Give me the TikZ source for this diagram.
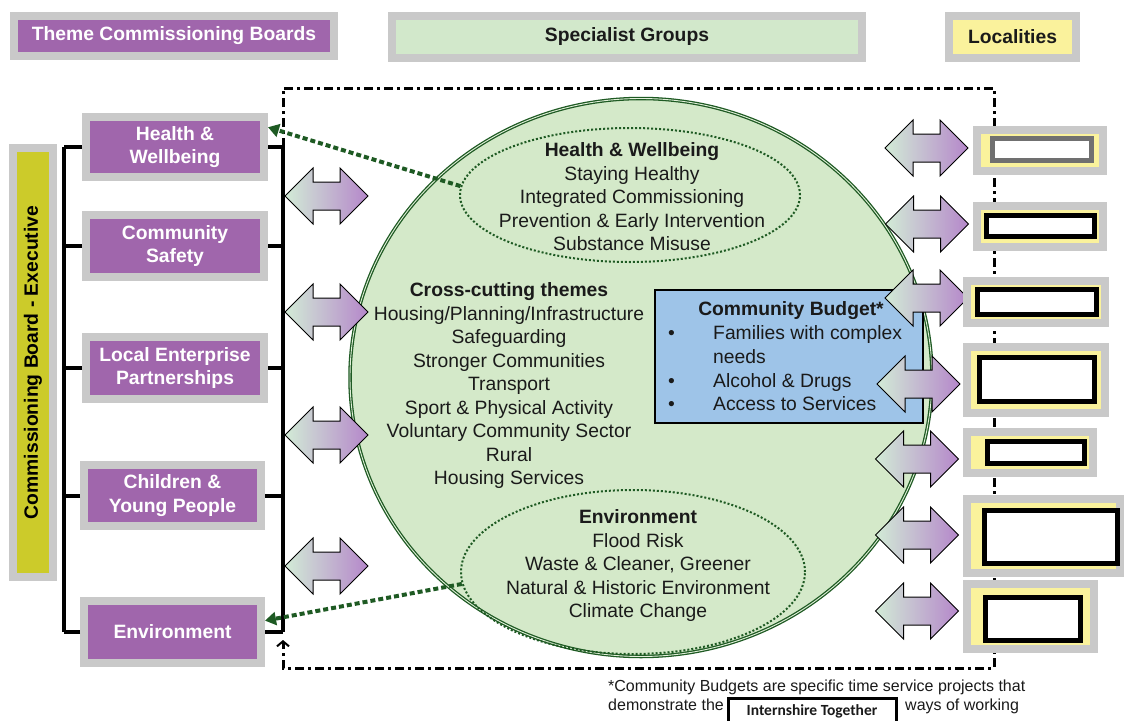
\documentclass[tikz,border=0pt]{standalone}
\usepackage{fontspec}
\setmainfont{Liberation Sans}
\newfontfamily\calib{Carlito}
\usetikzlibrary{shapes.geometric,shapes.arrows,arrows.meta,calc}
\definecolor{purp}{HTML}{A066AC}
\definecolor{frameg}{HTML}{C9C9C9}
\definecolor{hgreen}{HTML}{D2E8CB}
\definecolor{lyellow}{HTML}{FAF29C}
\definecolor{olivey}{HTML}{CCCB2A}
\definecolor{cfill}{HTML}{D4E9C9}
\definecolor{dgreen}{HTML}{1E5A23}
\definecolor{bboxc}{HTML}{9EC4E8}
\definecolor{agreen}{HTML}{D2EBD6}
\definecolor{amid}{HTML}{ECEAF4}
\definecolor{apurp}{HTML}{B587CA}
\definecolor{txtc}{HTML}{1A1A1A}
\definecolor{locgray}{HTML}{707070}
\begin{document}
\begin{tikzpicture}[x=1pt,y=-1pt,
  big/.style={font=\fontsize{19.3}{23.5}\selectfont},
  bigb/.style={font=\fontsize{19.3}{23.5}\selectfont\bfseries},
  hdr/.style={rectangle, draw=frameg, line width=8pt, inner sep=0pt, bigb, align=center},
  board/.style={hdr, fill=purp, text=white, minimum width=178pt, minimum height=60pt},
  brk/.style={line width=4pt, black},
  dashframe/.style={line width=3pt, black, dash pattern=on 9pt off 4pt on 3pt off 4pt},
  dblarr/.style={double arrow, draw=black, line width=1pt, minimum height=83pt, inner xsep=0pt, inner ysep=13.5pt, double arrow head extend=14pt, left color=agreen, middle color=amid, right color=apurp},
  dotarr/.style={draw=dgreen, line width=4pt, dash pattern=on 5pt off 3pt, -{Triangle[length=11pt,width=13pt]}},
  locout/.style={rectangle, draw=frameg, line width=8pt, fill=lyellow, inner sep=0pt},
  locin/.style={rectangle, draw=black, line width=5pt, fill=white, inner sep=0pt},
  ctext/.style={big, align=center, inner sep=0pt, text=txtc},
  cbt/.style={big, inner sep=0pt, text=txtc, text height=14pt, text depth=4pt},
  foot/.style={font=\fontsize{16}{18}\selectfont, inner sep=0pt, text=txtc, text height=12pt, text depth=3pt}
]
\path[use as bounding box, fill=white] (0,0) rectangle (1124,720);

% headers
\node[hdr, fill=purp, text=white, minimum width=320pt, minimum height=40pt] (h1) at (174,36) {Theme Commissioning Boards};
\node[hdr, fill=hgreen, text=txtc, minimum width=470pt, minimum height=42pt] (h2) at (627,37) {Specialist Groups};
\node[hdr, fill=lyellow, text=txtc, minimum width=127pt, minimum height=42pt] (h3) at (1012.5,37) {Localities};

% left boards
\node[board] (hw) at (175,147) {Health \&\\Wellbeing};
\node[board, minimum height=62pt] (cs) at (175,246) {Community\\Safety};
\node[board, minimum height=62pt] (lep) at (175,368) {Local Enterprise\\Partnerships};
\node[board, minimum width=177pt, minimum height=61pt] (cyp) at (172.5,495.5) {Children \&\\Young People};
\node[board, minimum width=177pt, minimum height=62pt] (env) at (172.5,632) {Environment};

% executive board
\node[hdr, fill=olivey, text=black, minimum width=40pt, minimum height=429pt] (exec) at (33,362.5) {};
\node[bigb, rotate=90, inner sep=0pt] (exect) at (exec.center) {Commissioning Board - Executive};

% bracket coordinates
\coordinate (lb) at (64,0);
\coordinate (rb) at (283,0);
\coordinate (ftl) at (283,88);
\coordinate (ftr) at (994,88);
\coordinate (fbr) at (994,668);
\coordinate (fbl) at (283,668);
\coordinate (fend) at (283,640);

% dash-dot frame
\draw[dashframe, -{Straight Barb[length=5pt,width=12pt,line width=2pt]}] (hw.east -| rb) -- (ftl) -- (ftr) -- (fbr) -- (fbl) -- (fend);

% brackets
\draw[brk] (hw.west -| lb) -- (env.west -| lb);
\draw[brk] (hw.east -| rb) -- (env.east -| rb);
\foreach \n in {hw,cs,lep,cyp,env}{
  \draw[brk] (\n.west) -- (\n.west -| lb);
  \draw[brk] (\n.east) -- (\n.east -| rb);
}

% big circle
\node[ellipse, draw=dgreen, line width=1.3pt, double=cfill!70!white, double distance=0.9pt, fill=cfill, minimum width=582pt, minimum height=558pt, inner sep=0pt] (circ) at (641,377.5) {};

% inner ellipses
\node[ellipse, draw=dgreen, line width=2pt, dash pattern=on 2pt off 2pt, minimum width=340pt, minimum height=134pt, inner sep=0pt] (hwe) at (630,195) {};
\node[ellipse, draw=dgreen, line width=2pt, dash pattern=on 2pt off 2pt, minimum width=344pt, minimum height=164pt, inner sep=0pt] (enve) at (633,572) {};

% circle texts
\node[ctext] (hwt) at (632,197) {\textbf{Health \& Wellbeing}\\Staying Healthy\\Integrated Commissioning\\Prevention \& Early Intervention\\Substance Misuse};
\node[ctext] (cct) at (509,386) {\textbf{Cross-cutting themes}\\Housing/Planning/Infrastructure\\Safeguarding\\Stronger Communities\\Transport\\Sport \& Physical Activity\\Voluntary Community Sector\\Rural\\Housing Services};
\node[ctext] (envt) at (638,566) {\textbf{Environment}\\Flood Risk\\Waste \& Cleaner, Greener\\Natural \& Historic Environment\\Climate Change};

% community budget
\node[rectangle, draw=black, line width=1.2pt, fill=bboxc, minimum width=268pt, minimum height=133pt, inner sep=0pt] (cb) at (789,356.5) {};
\node[cbt, bigb] (cbtitle) at (791,310) {Community Budget*};
\node[cbt, anchor=west] (cbb1) at (668,334) {\textbullet};
\node[cbt, anchor=west] (cbl1) at (713,334) {Families with complex};
\node[cbt, anchor=west] (cbl2) at (713,358) {needs};
\node[cbt, anchor=west] (cbb2) at (668,382) {\textbullet};
\node[cbt, anchor=west] (cbl3) at (713,382) {Alcohol \& Drugs};
\node[cbt, anchor=west] (cbb3) at (668,405) {\textbullet};
\node[cbt, anchor=west] (cbl4) at (713,405) {Access to Services};

% left arrows
\node[dblarr] (la1) at (326.5,196) {};
\node[dblarr] (la2) at (326.5,312) {};
\node[dblarr] (la3) at (326.5,435) {};
\node[dblarr] (la4) at (326.5,566) {};

% right arrows
\node[dblarr] (ra1) at (926.5,148) {};
\node[dblarr] (ra2) at (927,224) {};
\node[dblarr] (ra3) at (926.5,298) {};
\node[dblarr] (ra4) at (918.5,384) {};
\node[dblarr] (ra5) at (917,459) {};
\node[dblarr] (ra6) at (917,535) {};
\node[dblarr] (ra7) at (917,611) {};

% dotted green arrows
\draw[dotarr] (hwe.177) -- (hw.12);
\draw[dotarr] (enve.184) -- (env.7);

% localities
\node[locout, minimum width=126pt, minimum height=41pt] (lo1) at (1040,150.5) {};
\node[locin, draw=locgray, minimum width=99pt, minimum height=22pt] (li1) at (1042,149.5) {};
\node[locout, minimum width=126pt, minimum height=41pt] (lo2) at (1040,226.5) {};
\node[locin, minimum width=108pt, minimum height=21pt] (li2) at (1040.5,226) {};
\node[locout, minimum width=138pt, minimum height=42pt] (lo3) at (1036,302) {};
\node[locin, minimum width=119pt, minimum height=25pt] (li3) at (1037,302) {};
\node[locout, minimum width=138pt, minimum height=66pt] (lo4) at (1036,380) {};
\node[locin, minimum width=115pt, minimum height=44pt] (li4) at (1037,379.5) {};
\node[locout, minimum width=126pt, minimum height=41pt] (lo5) at (1030,452.5) {};
\node[locin, minimum width=97pt, minimum height=22pt] (li5) at (1036,452.5) {};
\node[locout, minimum width=153pt, minimum height=74pt] (lo6) at (1043.5,536) {};
\node[locin, minimum width=133pt, minimum height=53pt] (li6) at (1051,537) {};
\node[locout, minimum width=127pt, minimum height=65pt] (lo7) at (1030.5,616.5) {};
\node[locin, minimum width=95pt, minimum height=43pt] (li7) at (1033,619) {};

% footnote
\node[foot, anchor=west] (f1) at (608,687) {*Community Budgets are specific time service projects that};
\node[foot, anchor=west] (f2) at (608,706) {demonstrate the};
\node[rectangle, draw=black, line width=3pt, fill=white, minimum width=168pt, minimum height=26pt, inner sep=0pt, font=\calib\bfseries\fontsize{15.5}{17}\selectfont, text=txtc] (itb) at (812,711) {Internshire Together};
\node[foot, anchor=west] (f3) at (905,706) {ways of working};
\end{tikzpicture}
\end{document}
